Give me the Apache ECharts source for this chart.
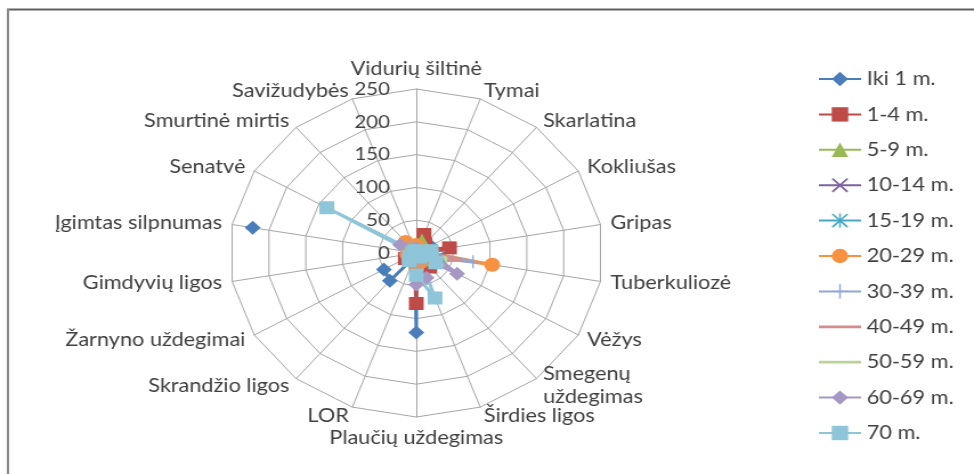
<!DOCTYPE html>
<html>
<head>
<meta charset="utf-8">
<script src="https://cdn.jsdelivr.net/npm/echarts@6/dist/echarts.min.js"></script>
<style>
  html, body { margin: 0; padding: 0; background: #fff; overflow: hidden; }
  #chart { width: 854px; height: 474px; transform: scaleX(1.1405); transform-origin: 0 0; }
</style>
</head>
<body>
<div id="chart"></div>
<script>
// Causes of death, clockwise from the top axis
const categories = [
  'Vidurių šiltinė', 'Tymai', 'Skarlatina', 'Kokliušas', 'Gripas', 'Tuberkuliozė',
  'Vėžys', 'Smegenų\nuždegimas', 'Širdies ligos', 'Plaučių uždegimas', 'LOR',
  'Skrandžio ligos', 'Žarnyno uždegimai', 'Gimdyvių ligos', 'Įgimtas silpnumas',
  'Senatvė', 'Smurtinė mirtis', 'Savižudybės'
];

const seriesNames = ['Iki 1 m.', '1-4 m.', '5-9 m.', '10-14 m.', '15-19 m.', '20-29 m.',
  '30-39 m.', '40-49 m.', '50-59 m.', '60-69 m.', '70 m.'];

// Deaths per age group (null = no entry)
const ageUnder1 = [1, 4, 1, 22, 18, 3, 0, 8, 2, 121, 6, 55, 50, null, 222, null, 1, 0];
const age1to4   = [3, 30, 18, 12, 45, 12, 0, 28, 5, 77, 8, 10, 17, 0, 5, 0, 2, 0];
const age5to9   = [10, 22, 12, 6, 10, 15, 2, 15, 12, 25, 5, 5, 6, 0, 0, 0, 5, 1];
const age10to14 = [6, 3, 4, 2, 8, 18, 3, 10, 10, 15, 3, 4, 3, 0, 0, 0, 6, 2];
const age15to19 = [8, 2, 2, 1, 10, 30, 4, 8, 12, 18, 3, 5, 4, 2, 0, 0, 10, 5];
const age20to29 = [12, 2, 1, 0, 12, 103, 6, 8, 15, 22, 3, 6, 5, 12, 0, 0, 22, 10];
const age30to39 = [8, 1, 0, 0, 10, 77, 12, 6, 20, 25, 3, 8, 5, 10, 0, 0, 15, 8];
const age40to49 = [6, 0, 0, 0, 10, 62, 25, 5, 28, 28, 2, 10, 6, 3, 0, 0, 10, 6];
const age50to59 = [5, 0, 0, 0, 12, 40, 45, 5, 47, 35, 2, 12, 8, 0, 0, 2, 8, 5];
const age60to69 = [4, 0, 0, 0, 15, 25, 63, 6, 40, 48, 3, 15, 10, 0, 0, 25, 6, 4];
const age70plus = [3, 0, 0, 0, 20, 20, 30, 8, 73, 34, 3, 15, 10, 0, 5, 138, 4, 2];

const seriesValues = [ageUnder1, age1to4, age5to9, age10to14, age15to19, age20to29,
  age30to39, age40to49, age50to59, age60to69, age70plus];

const axisMax = 250;
const axisStep = 50;

// Styling
const colors = ['#4A7EBB', '#BE4B48', '#98B954', '#7D60A0', '#46AAC5', '#F69240',
  '#8EA7D6', '#D38D8B', '#BBD39B', '#A598C5', '#8FC5D8'];
const crossX = 'path://M0,1 L1,0 L6,5 L11,0 L12,1 L7,6 L12,11 L11,12 L6,7 L1,12 L0,11 L5,6 Z';
const star = crossX + ' M5.4,0 L6.6,0 L6.6,12 L5.4,12 Z';
const plus = 'path://M5.4,0 L6.6,0 L6.6,5.4 L12,5.4 L12,6.6 L6.6,6.6 L6.6,12 L5.4,12 L5.4,6.6 L0,6.6 L0,5.4 L5.4,5.4 Z';
const symbols = ['diamond', 'rect', 'triangle', crossX, star, 'circle', plus, 'none', 'none', 'diamond', 'rect'];
const symbolSizes = [14, 13, 12, 12, 12, 14, 13, 0, 0, 14, 13];
const lineOnlyIcon = 'path://M0,0 L40,0 L40,3 L0,3 Z';

const font = 'Lato';
const textColor = '#404040';
const gridColor = '#A6A6A6';
const center = [365, 253];
const radius = 164;

// Radar lays indicators out counter-clockwise; list them so they read clockwise.
const radarOrder = [0].concat(categories.slice(1).map((_, i) => categories.length - 1 - i));
const indicators = radarOrder.map((ci, k) => {
  const ind = { name: categories[ci], min: 0, max: axisMax };
  if (k === 0) {
    ind.axisLabel = { show: true, fontSize: 18, color: textColor, fontFamily: font, margin: 23 };
  }
  return ind;
});

const step = 360 / categories.length;
const series = seriesNames.map((name, s) => {
  const vals = seriesValues[s];
  const data = vals.map((v, i) => [v === null ? '-' : v, i * step]);
  data.push([vals[0] === null ? '-' : vals[0], 360]);
  return {
    name: name,
    type: 'line',
    coordinateSystem: 'polar',
    polarIndex: 0,
    data: data,
    symbol: symbols[s],
    symbolSize: symbolSizes[s],
    showSymbol: symbols[s] !== 'none',
    connectNulls: false,
    lineStyle: { width: 3, color: colors[s] },
    itemStyle: { color: colors[s] },
    emphasis: { disabled: true },
    animation: false
  };
});

const legendData = seriesNames.map((name, s) =>
  symbols[s] === 'none' ? { name: name, icon: lineOnlyIcon } : { name: name });

const chart = echarts.init(document.getElementById('chart'), null, { renderer: 'canvas' });
chart.setOption({
  backgroundColor: '#ffffff',
  animation: false,
  graphic: [
    { type: 'line', shape: { x1: 6, y1: 9.5, x2: 860, y2: 9.5 }, style: { stroke: '#606060', lineWidth: 2 } },
    { type: 'line', shape: { x1: 7, y1: 9, x2: 7, y2: 480 }, style: { stroke: '#8A8A8A', lineWidth: 2 } }
  ],
  radar: {
    center: center,
    radius: radius,
    startAngle: 90,
    shape: 'polygon',
    splitNumber: axisMax / axisStep,
    indicator: indicators,
    nameGap: 9,
    axisName: { color: textColor, fontSize: 19, fontFamily: font, lineHeight: 23 },
    axisLine: { show: true, lineStyle: { color: gridColor, width: 1 } },
    splitLine: { show: true, lineStyle: { color: gridColor, width: 1 } },
    splitArea: { show: false },
    axisTick: { show: false },
    axisLabel: { show: false }
  },
  polar: { center: center, radius: radius },
  angleAxis: {
    type: 'value', min: 0, max: 360, startAngle: 90, clockwise: true, show: false
  },
  radiusAxis: {
    type: 'value', min: 0, max: axisMax, show: false
  },
  legend: {
    data: legendData,
    orient: 'vertical',
    left: 712,
    top: 64,
    itemWidth: 37,
    itemHeight: 18,
    itemGap: 15.4,
    selectedMode: false,
    textStyle: { fontSize: 19, color: textColor, fontFamily: font, lineHeight: 20 }
  },
  series: series
});
</script>
</body>
</html>
